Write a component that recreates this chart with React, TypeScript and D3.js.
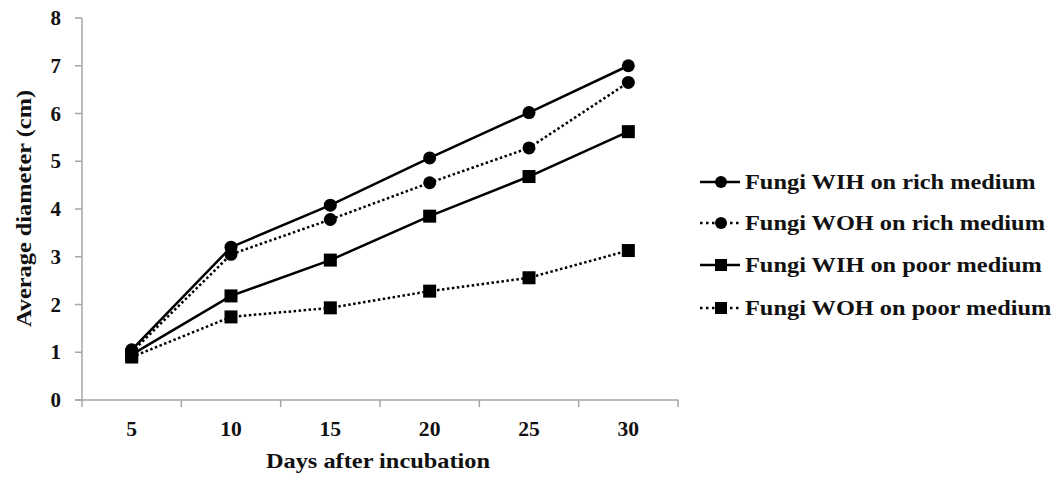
import React from "react";
import * as d3 from "d3";

const days = ["5", "10", "15", "20", "25", "30"];
const yTicks = [0, 1, 2, 3, 4, 5, 6, 7, 8];
const wihRich = [1.05, 3.2, 4.08, 5.07, 6.02, 7.0];
const wohRich = [1.0, 3.05, 3.78, 4.55, 5.28, 6.65];
const wihPoor = [0.95, 2.18, 2.93, 3.85, 4.68, 5.62];
const wohPoor = [0.9, 1.74, 1.93, 2.28, 2.56, 3.13];
const seriesNames = [
  "Fungi WIH on rich medium",
  "Fungi WOH on rich medium",
  "Fungi WIH on poor medium",
  "Fungi WOH on poor medium",
];

const series = [
  { name: seriesNames[0], values: wihRich, marker: "circle", dotted: false },
  { name: seriesNames[1], values: wohRich, marker: "circle", dotted: true },
  { name: seriesNames[2], values: wihPoor, marker: "square", dotted: false },
  { name: seriesNames[3], values: wohPoor, marker: "square", dotted: true },
];

const FONT = "'Liberation Serif', 'Times New Roman', serif";
const SX = 1.16;

function T(props: {
  x: number;
  y: number;
  size: number;
  sx?: number;
  rotate?: number;
  anchor?: string;
  dy?: string;
  children: React.ReactNode;
}) {
  const { x, y, size, sx = SX, rotate = 0, anchor = "start", dy, children } = props;
  return (
    <text
      transform={`translate(${x},${y}) rotate(${rotate}) scale(${sx},1)`}
      textAnchor={anchor}
      dy={dy}
      fontFamily={FONT}
      fontWeight="bold"
      fontSize={size}
      fill="#111"
    >
      {children}
    </text>
  );
}

export default function App() {
  const W = 1058, H = 477;
  const left = 82, right = 678, top = 18, bottom = 400;
  const x = d3.scaleBand().domain(days).range([left, right]);
  const y = d3.scaleLinear().domain([0, 8]).range([bottom, top]);
  const cx = (d: string) => (x(d) as number) + x.bandwidth() / 2;
  const line = d3.line<number>().x((_, i) => cx(days[i])).y((v) => y(v));
  const axisColor = "#a6a6a6";
  const legendX = 700;
  const legendY = [182, 223, 265, 308];

  const marker = (kind: string, px: number, py: number, key: string, s = 13) =>
    kind === "circle" ? (
      <circle key={key} cx={px} cy={py} r={s / 2} fill="#000" />
    ) : (
      <rect key={key} x={px - s / 2} y={py - s / 2} width={s} height={s} fill="#000" />
    );

  return (
    <svg width={W} height={H} style={{ position: "absolute", left: 0, top: 0, background: "#fff" }}>
      {/* y axis */}
      <line x1={left} x2={left} y1={top} y2={bottom} stroke={axisColor} strokeWidth={1.5} />
      {yTicks.map((t) => (
        <g key={t}>
          <line x1={left - 7} x2={left} y1={y(t)} y2={y(t)} stroke={axisColor} strokeWidth={1.5} />
          <T x={61} y={y(t)} size={20} sx={1.05} anchor="end" dy="0.35em">
            {t}
          </T>
        </g>
      ))}
      {/* x axis */}
      <line x1={left - 7} x2={right} y1={bottom} y2={bottom} stroke={axisColor} strokeWidth={1.5} />
      {days.map((d) => (
        <line key={"xt" + d} x1={x(d) as number} x2={x(d) as number} y1={bottom} y2={bottom + 7} stroke={axisColor} strokeWidth={1.5} />
      ))}
      <line x1={right} x2={right} y1={bottom} y2={bottom + 7} stroke={axisColor} strokeWidth={1.5} />
      {days.map((d) => (
        <T key={"xl" + d} x={cx(d)} y={436} size={21} sx={1.03} anchor="middle">
          {d}
        </T>
      ))}
      <T x={(left + right) / 2 - 2} y={468} size={21} anchor="middle">
        Days after incubation
      </T>
      <T x={31} y={208.5} size={21} rotate={-90} anchor="middle">
        Average diameter (cm)
      </T>
      {/* series */}
      {series.map((s, si) => (
        <g key={s.name}>
          <path
            d={line(s.values) as string}
            fill="none"
            stroke="#000"
            strokeWidth={2.5}
            strokeDasharray={s.dotted ? "2.5,2.5" : undefined}
          />
          {s.values.map((v, i) => marker(s.marker, cx(days[i]), y(v), `${si}-${i}`))}
        </g>
      ))}
      {/* legend */}
      {series.map((s, i) => (
        <g key={"lg" + i}>
          <line
            x1={legendX}
            x2={legendX + 40}
            y1={legendY[i]}
            y2={legendY[i]}
            stroke="#000"
            strokeWidth={2.5}
            strokeDasharray={s.dotted ? "2.5,3.5" : undefined}
          />
          {marker(s.marker, legendX + 21, legendY[i], "lm" + i, 12)}
          <T x={legendX + 45} y={legendY[i]} size={21} dy="0.35em">
            {s.name}
          </T>
        </g>
      ))}
    </svg>
  );
}
